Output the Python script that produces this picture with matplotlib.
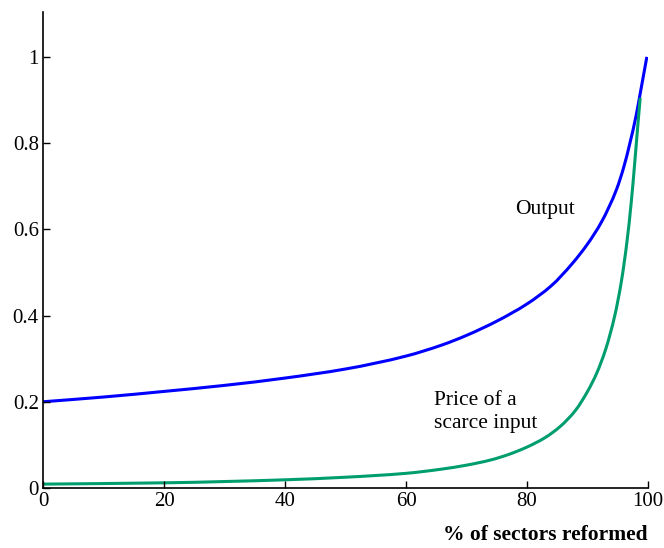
import numpy as np
import matplotlib.pyplot as plt
from matplotlib.path import Path
from matplotlib.patches import PathPatch

plt.rcParams['font.family'] = ['Liberation Serif', 'DejaVu Serif']

# values
reform_out = [0, 10, 20, 30, 40, 50, 60, 66, 70, 75, 80, 84, 87.5, 90,
              92.3, 94.8, 96, 97, 98, 98.7, 99.8]
output = [0.200, 0.211, 0.224, 0.238, 0.255, 0.276, 0.306, 0.332, 0.354,
          0.387, 0.427, 0.469, 0.521, 0.566, 0.617, 0.693, 0.745, 0.800,
          0.862, 0.915, 1.0]

reform_price = [0, 20, 40, 50, 60, 66, 70, 74, 77, 80, 83, 85.5, 88, 90,
                91.5, 93, 94.5, 95.6, 96.5, 97.2, 97.8, 98.3, 98.7]
price = [0.009, 0.012, 0.019, 0.025, 0.034, 0.044, 0.053, 0.065, 0.078,
         0.095, 0.117, 0.143, 0.180, 0.224, 0.266, 0.322, 0.40, 0.48,
         0.57, 0.66, 0.755, 0.84, 0.905]

xticks = [0, 20, 40, 60, 80, 100]
yticks = [0, 0.2, 0.4, 0.6, 0.8, 1]
ytick_labels = ['0', '0.2', '0.4', '0.6', '0.8', '1']


def curve_path(xs, ys):
    # smooth bezier path through the read points (monotone tangents)
    xs = np.asarray(xs, float)
    ys = np.asarray(ys, float)
    h = np.diff(xs)
    d = np.diff(ys) / h
    m = np.zeros_like(xs)
    m[0], m[-1] = d[0], d[-1]
    for i in range(1, len(xs) - 1):
        if d[i - 1] * d[i] > 0:
            w1 = 2 * h[i] + h[i - 1]
            w2 = h[i] + 2 * h[i - 1]
            m[i] = (w1 + w2) / (w1 / d[i - 1] + w2 / d[i])
    verts = [(xs[0], ys[0])]
    codes = [Path.MOVETO]
    for i in range(len(h)):
        verts += [(xs[i] + h[i] / 3, ys[i] + m[i] * h[i] / 3),
                  (xs[i + 1] - h[i] / 3, ys[i + 1] - m[i + 1] * h[i] / 3),
                  (xs[i + 1], ys[i + 1])]
        codes += [Path.CURVE4] * 3
    return Path(verts, codes)


fig = plt.figure(figsize=(6.64, 5.48), dpi=100)
ax = fig.add_axes([0.0648, 0.1095, 0.9112, 0.8686])

ax.add_patch(PathPatch(curve_path(reform_out, output), fill=False,
                       edgecolor='#0000ff', lw=2.2, capstyle='butt'))
ax.add_patch(PathPatch(curve_path(reform_price, price), fill=False,
                       edgecolor='#009e6e', lw=2.2, capstyle='butt'))

ax.text(83, 0.647, 'Output', fontsize=15.5, ha='center', va='center')
ax.text(64.7, 0.176, 'Price of a\nscarce input', fontsize=15.5, ha='left',
        va='center', linespacing=1.3)

ax.set_xlim(0, 100)
ax.set_ylim(0, 1.104)
ax.set_xticks(xticks)
ax.set_yticks(yticks)
ax.set_yticklabels(ytick_labels)
ax.tick_params(direction='in', length=5, width=1, labelsize=15, pad=3)
ax.spines['top'].set_visible(False)
ax.spines['right'].set_visible(False)
for s in ('left', 'bottom'):
    ax.spines[s].set_linewidth(1.2)

fig.text(648 / 664, 1 - 535 / 548, '% of sectors reformed', fontsize=15.5,
         fontweight='bold', ha='right', va='center')

fig.savefig('out.png', dpi=100)
